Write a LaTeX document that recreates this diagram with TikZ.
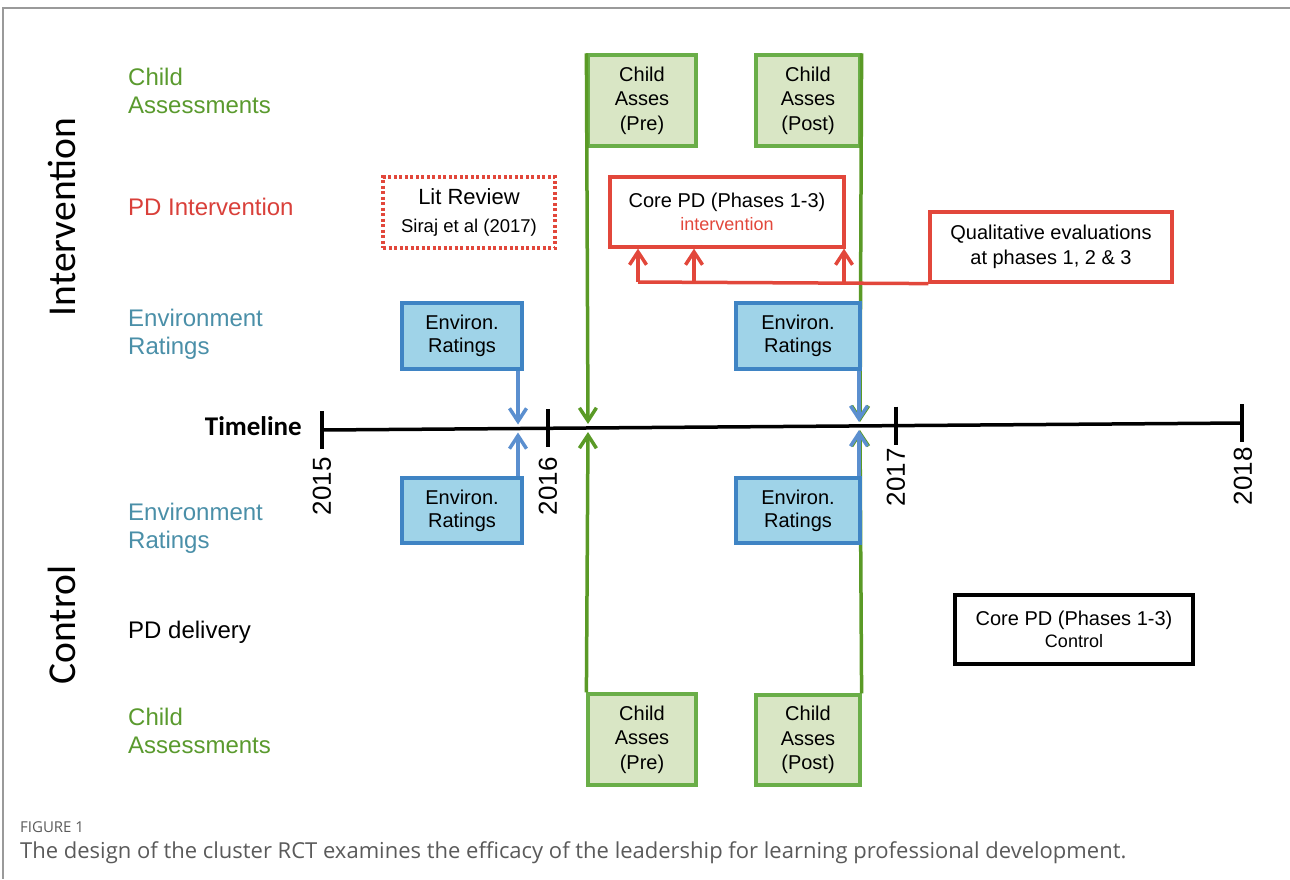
\documentclass[tikz,border=0pt]{standalone}
\usepackage{fontspec}
\setmainfont{Liberation Sans}
\newfontfamily\calfont{Carlito}
\newfontfamily\capfont{Open Sans}
\usetikzlibrary{arrows.meta,calc}
\definecolor{cgreenT}{HTML}{5A9A2E}
\definecolor{cgline}{HTML}{5A9A26}
\definecolor{cgbord}{HTML}{6AAE48}
\definecolor{cgfill}{HTML}{D9E6C5}
\definecolor{cblueT}{HTML}{4A8FA8}
\definecolor{cbbord}{HTML}{3F84C4}
\definecolor{cbfill}{HTML}{9FD3E8}
\definecolor{cbarrow}{HTML}{5B8FCF}
\definecolor{cred}{HTML}{E2473B}
\definecolor{credT}{HTML}{D9403A}
\definecolor{cframe}{HTML}{9A9A9A}
\definecolor{ccap}{HTML}{5A5A5A}
\newcommand\fsz[2]{\fontsize{#1}{#2}\selectfont}
\begin{document}
\begin{tikzpicture}[x=1pt,y=-1pt,
  rowlbl/.style={anchor=base west,inner sep=0,align=left,font=\fsz{24}{28}},
  bigl/.style={rotate=90,inner sep=0,font=\calfont\fsz{39.5}{42}},
  year/.style={rotate=90,anchor=east,inner sep=0,font=\fsz{26}{28}},
  box/.style={draw,line width=3.2pt,align=center,inner sep=0,font=\fsz{20}{24.5}},
  cbox/.style={box,draw=cgbord,fill=cgfill},
  ebox/.style={box,draw=cbbord,fill=cbfill,font=\fsz{20}{23}},
  rbox/.style={box,draw=cred},
  litbox/.style={box,draw=cred,dash pattern=on 3pt off 2.5pt},
  barb/.tip={Straight Barb[length=13pt,width=17pt]},
  gline/.style={draw=cgline,line width=3.5pt},
  bline/.style={draw=cbarrow,line width=3.5pt,-barb},
  rline/.style={draw=cred,line width=3.5pt},
  tline/.style={draw=black,line width=3.5pt}]
\useasboundingbox (0,0) rectangle (1290,879);
% frame
\draw[cframe,line width=1.5pt] (1290,8) -- (3,8) -- (3,879);
% group labels
\node[bigl] (intv) at (62,217) {Intervention};
\node[bigl] (ctrl) at (62,625) {Control};
% row labels
\node[rowlbl,text=cgreenT] (lca1) at (128,113) {Child\\Assessments};
\node[rowlbl,text=credT] (lpd1) at (128,215) {PD Intervention};
\node[rowlbl,text=cblueT] (ler1) at (128,354) {Environment\\Ratings};
\node[rowlbl,text=cblueT] (ler2) at (128,548) {Environment\\Ratings};
\node[rowlbl,text=black] (lpd2) at (128,638) {PD delivery};
\node[rowlbl,text=cgreenT] (lca2) at (128,753) {Child\\Assessments};
\node[anchor=base east,inner sep=0,font=\calfont\bfseries\fsz{27}{30}] (tlab) at (302,435) {Timeline};
% timeline points
\coordinate (t15) at (322,430);
\coordinate (t16) at (548,428.3);
\coordinate (t17) at (896,425.6);
\coordinate (t18) at (1242,423);
\coordinate (aE1t) at (518,424.5);
\coordinate (aE1b) at (518,432.5);
\coordinate (aG1t) at (588,424);
\coordinate (aG1b) at (588,432);
\coordinate (aG2t) at (860,422);
\coordinate (aG2b) at (860,430);
\coordinate (aE2t) at (859,422);
\coordinate (aE2b) at (859,430);
% child assessment boxes
\node[cbox,minimum width=108,minimum height=91] (cpre1) at (642,100.5) {Child\\Asses\\(Pre)};
\node[cbox,minimum width=104,minimum height=91] (cpost1) at (808,100.5) {Child\\Asses\\(Post)};
\node[cbox,minimum width=108,minimum height=91] (cpre2) at (642,739.5) {Child\\Asses\\(Pre)};
\node[cbox,minimum width=104,minimum height=90] (cpost2) at (808,740) {Child\\Asses\\(Post)};
% green lines
\draw[gline,-barb] (cpre1.north west) -- (aG1t);
\draw[gline,-barb] (cpost1.north east) -- (aG2t);
\draw[gline,-barb] (cpre2.north west) -- (aG1b);
\draw[gline,-barb] (cpost2.north east) -- (aG2b);
% environment boxes
\node[ebox,minimum width=120,minimum height=66] (ei1) at (462,336) {Environ.\\Ratings};
\node[ebox,minimum width=124,minimum height=66] (ei2) at (798,336) {Environ.\\Ratings};
\node[ebox,minimum width=120,minimum height=65] (ec1) at (462,510.5) {Environ.\\Ratings};
\node[ebox,minimum width=124,minimum height=65] (ec2) at (798,510.5) {Environ.\\Ratings};
\draw[bline] (ei1.south -| aE1t) -- (aE1t);
\draw[bline] (ei2.south -| aE2t) -- (aE2t);
\draw[bline] (ec1.north -| aE1b) -- (aE1b);
\draw[bline] (ec2.north -| aE2b) -- (aE2b);
% timeline
\draw[tline] (t15) -- (t18);
\foreach \t in {t15,t16,t17,t18} \draw[tline] ($(\t)+(0,-19)$) -- ($(\t)+(0,19)$);
\node[year] (y15) at (322,457) {2015};
\node[year] (y16) at (548,457) {2016};
\node[year] (y17) at (896,448) {2017};
\node[year] (y18) at (1243,447) {2018};
% PD intervention
\node[litbox,minimum width=172,minimum height=71] (lit) at (469,212.5) {{\fsz{22}{26}Lit Review}\\[3pt]{\fsz{18.5}{22}Siraj et al (2017)}};
\node[rbox,minimum width=234,minimum height=70] (core) at (727,212) {Core PD (Phases 1-3)\\[-1pt]{\fsz{18}{22}\color{cred}intervention}};
\node[rbox,minimum width=242,minimum height=70] (qual) at (1051,247) {Qualitative evaluations\\at phases 1, 2 \& 3};
\coordinate (r1) at (638,282);
\coordinate (r2) at (694,282);
\coordinate (r3) at (844,282);
\draw[rline] (qual.south west) -- (r1);
\foreach \r in {r1,r2,r3} \draw[rline,-barb] (\r) -- (\r |- core.south);
% control PD
\node[box,draw=black,line width=3.6pt,minimum width=238,minimum height=69] (cpd) at (1074,629.5) {Core PD (Phases 1-3)\\[-2pt]{\fsz{18}{22}Control}};
% caption
\node[anchor=base west,inner sep=0,font=\capfont\fsz{15}{17},text=ccap] (fig) at (20,832) {FIGURE 1};
\node[anchor=base west,inner sep=0,font=\capfont\fsz{22}{25},text=ccap] (cap) at (20,858) {The design of the cluster RCT examines the efficacy of the leadership for learning professional development.};
\end{tikzpicture}
\end{document}
